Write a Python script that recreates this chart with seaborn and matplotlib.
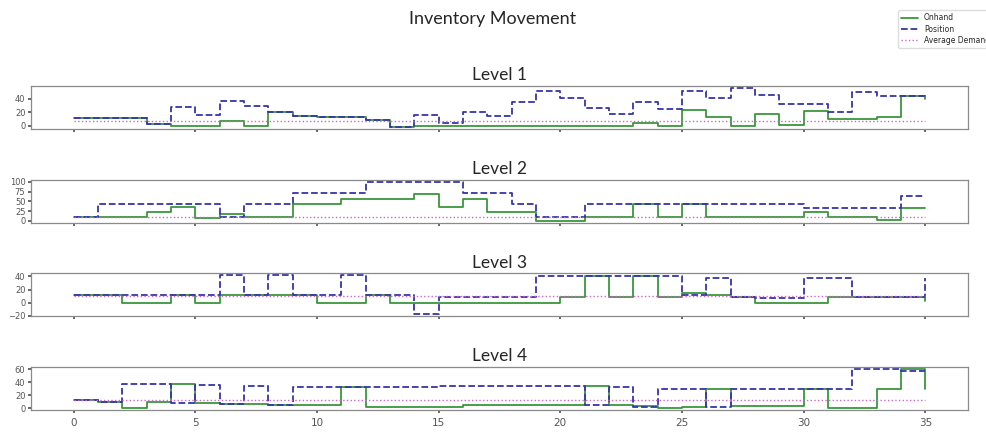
import matplotlib
matplotlib.use("Agg")
import matplotlib.pyplot as plt
import seaborn as sns
import numpy as np
import pandas as pd

periods = list(range(36))
levels = ["Level 1", "Level 2", "Level 3", "Level 4"]

onhand_l1 = [12, 11, 11, 3, 0, 0, 7, 0, 20, 15, 13, 13, 9, -2, 0, 0, 0, 0, 0, 0, 0, 0, 0, 5,
             0, 24, 13, 0, 17, 2, 22, 10, 10, 13, 44, 40]
position_l1 = [12, 11, 11, 3, 28, 16, 37, 30, 20, 15, 13, 13, 9, -2, 16, 5, 20, 15, 35, 52, 41, 26, 18, 35,
               25, 52, 41, 56, 46, 32, 32, 21, 50, 44, 44, 40]

onhand_l2 = [11, 11, 11, 24, 35, 7, 18, 11, 11, 43, 43, 55, 55, 55, 68, 36, 55, 24, 24, 0, 0, 11, 11, 43,
             11, 43, 11, 11, 11, 11, 22, 11, 11, 2, 33, 33]
position_l2 = [11, 43, 43, 43, 43, 43, 11, 43, 43, 72, 72, 72, 101, 101, 101, 101, 72, 72, 43, 10, 10, 43, 43, 43,
               43, 43, 43, 43, 43, 43, 33, 33, 33, 33, 63, 63]

onhand_l3 = [11, 11, 0, 0, 11, 0, 11, 11, 11, 11, 0, 0, 11, 0, 0, 0, 0, 0, 0, 0, 9, 41, 9, 41,
             9, 14, 11, 8, 0, 0, 0, 8, 8, 8, 8, 2]
position_l3 = [11, 11, 11, 11, 11, 11, 42, 11, 42, 11, 11, 42, 11, 11, -18, 9, 9, 9, 9, 41, 41, 41, 41, 41,
               41, 11, 38, 8, 7, 7, 38, 38, 8, 8, 8, 38]

onhand_l4 = [12, 10, 0, 10, 38, 8, 7, 6, 5, 5, 5, 32, 2, 2, 2, 2, 4, 4, 4, 4, 4, 34, 5, 3,
             0, 2, 30, 3, 3, 3, 30, 0, 0, 30, 60, 30]
position_l4 = [12, 10, 38, 38, 8, 36, 7, 34, 4, 32, 32, 32, 32, 32, 32, 34, 34, 34, 34, 34, 34, 5, 32, 2,
               30, 30, 2, 30, 30, 30, 30, 30, 61, 61, 58, 58]

avg_demand = [8, 9, 10, 12]

yticks_all = [[0, 20, 40], [0, 25, 50, 75, 100], [-20, 0, 20, 40], [0, 20, 40, 60]]
xticks = [0, 5, 10, 15, 20, 25, 30, 35]

onhand_all = [onhand_l1, onhand_l2, onhand_l3, onhand_l4]
position_all = [position_l1, position_l2, position_l3, position_l4]

sns.set_theme(style="ticks")
plt.rcParams["font.family"] = ["DejaVu Sans"]
plt.rcParams["axes.edgecolor"] = "#8a8a8a"
plt.rcParams["axes.linewidth"] = 0.9
plt.rcParams["xtick.color"] = "#555555"
plt.rcParams["ytick.color"] = "#555555"
plt.rcParams["xtick.major.size"] = 2.5
plt.rcParams["ytick.major.size"] = 2.5

fig, axes = plt.subplots(4, 1, figsize=(9.86, 4.32), dpi=100, sharex=True)
fig.subplots_adjust(left=0.0314, right=0.9817, top=0.801, bottom=0.0509, hspace=1.16)

green = "#3a963a"
blue = "#3535a8"
pink = "#cc66cc"

for i, ax in enumerate(axes):
    df = pd.DataFrame({
        "period": periods,
        "Onhand": onhand_all[i],
        "Position": position_all[i],
        "Average Demand": [avg_demand[i]] * len(periods),
    })
    sns.lineplot(data=df, x="period", y="Onhand", ax=ax, color=green, lw=1.3,
                 drawstyle="steps-post", label="Onhand", legend=False)
    sns.lineplot(data=df, x="period", y="Position", ax=ax, color=blue, lw=1.3,
                 linestyle="--", drawstyle="steps-post", label="Position", legend=False)
    sns.lineplot(data=df, x="period", y="Average Demand", ax=ax, color=pink, lw=1.0,
                 linestyle=":", drawstyle="steps-post", label="Average Demand", legend=False)
    ax.set_title(levels[i], fontsize=12.5, family=["Lato", "DejaVu Sans"], pad=4)
    ax.set_xlabel("")
    ax.set_ylabel("")
    ax.set_yticks(yticks_all[i])
    ax.tick_params(axis="y", labelsize=6, pad=1.5)
    ax.tick_params(axis="x", labelsize=7.5, pad=3)

axes[-1].set_xticks(xticks)

handles, labels = axes[0].get_legend_handles_labels()
fig.legend(handles, labels, loc="upper left", bbox_to_anchor=(0.907, 0.985),
           fontsize=5.5, frameon=True, framealpha=1, edgecolor="#dddddd",
           borderpad=0.4, labelspacing=0.3, handlelength=2.2)

fig.suptitle("Inventory Movement", fontsize=13, y=0.975, family=["Lato", "DejaVu Sans"])

fig.savefig("out.png", dpi=100)
